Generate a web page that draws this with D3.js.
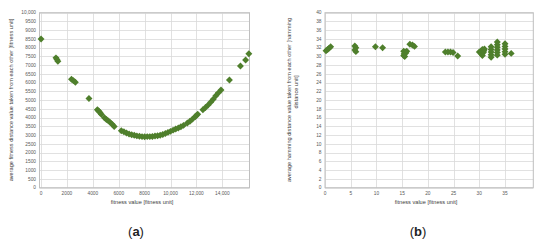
<!DOCTYPE html>
<meta charset="utf-8">
<script src="https://d3js.org/d3.v7.min.js"></script>
<style>
  body { margin: 0; background: #fff; }
  text { font-family: "Liberation Sans", Arial, sans-serif; }
</style>
<div id="chart"></div>
<script>
// chart (a): fitness value vs. average fitness distance
var aFitness = [0,
  1150, 1230, 1300,
  2350, 2500, 2650,
  3700,
  4350, 4450, 4550, 4650,
  4900, 5050, 5200, 5350, 5500, 5650,
  6200, 6400, 6600, 6800, 7000, 7200, 7400, 7600, 7800, 8000, 8200, 8400, 8600, 8800,
  9000, 9200, 9400, 9600, 9800, 10000, 10200, 10400, 10600, 10800, 11000, 11300, 11500,
  11700, 11900, 12000, 12100,
  12500, 12700, 12900, 13100, 13300, 13500, 13700, 13900,
  14550, 15400, 15800, 16050];
var aDistance = [8500,
  7420, 7330, 7230,
  6200, 6120, 6030,
  5100,
  4450, 4380, 4300, 4200,
  4000, 3900, 3820, 3720, 3620, 3500,
  3250, 3200, 3130, 3070, 3030, 3000, 2960, 2940, 2920, 2910, 2920, 2920, 2930, 2950,
  2970, 3000, 3040, 3100, 3160, 3220, 3290, 3350, 3410, 3480, 3560, 3700, 3800,
  3920, 4050, 4130, 4200,
  4450, 4580, 4720, 4880, 5050, 5250, 5420, 5580,
  6150, 6950, 7300, 7650];
var aXTicks = [0, 2000, 4000, 6000, 8000, 10000, 12000, 14000];
var aXLabels = ["0", "2000", "4000", "6000", "8000", "10,000", "12,000", "14,000"];
var aYTicks = d3.range(0, 10001, 500);
var aYLabels = aYTicks.map(function(v) { return v === 10000 ? "10,000" : String(v); });

// chart (b): fitness value vs. average hamming distance
var bFitness = [0.2, 0.5, 0.8, 1.1,
  5.8, 6.0, 5.8, 6.0,
  9.8, 11.2,
  15.3, 15.6, 15.9, 15.4, 15.7, 15.3, 15.5,
  16.5, 17.0, 17.4,
  23.4, 23.9, 24.4, 24.9, 25.8,
  30.0, 30.3, 30.6, 30.9, 30.4, 30.8, 30.6, 31.0,
  32.3, 32.3, 32.3, 32.3, 32.3,
  33.5, 33.5, 33.5, 33.5, 33.5, 33.5,
  35.0, 35.0, 35.0, 35.0, 35.0,
  36.2];
var bHamming = [31.3, 31.6, 31.9, 32.2,
  32.4, 32.0, 31.5, 31.1,
  32.2, 32.0,
  31.2, 31.0, 31.2, 30.6, 30.8, 30.2, 30.0,
  32.8, 32.6, 32.3,
  31.0, 31.0, 31.0, 30.9, 30.1,
  31.0, 31.2, 31.6, 31.3, 30.6, 30.9, 30.2, 31.7,
  32.2, 31.6, 31.0, 30.4, 29.8,
  33.3, 32.7, 32.1, 31.5, 30.9, 30.3,
  32.9, 32.3, 31.7, 31.1, 30.5,
  30.7];
var bXTicks = [0, 5, 10, 15, 20, 25, 30, 35];
var bXLabels = bXTicks.map(String);
var bYTicks = d3.range(0, 41, 2);
var bYLabels = bYTicks.map(String);

var W = 550, H = 247;
var green = "#4f7f2c";

var svg = d3.select("#chart").append("svg")
    .attr("width", W)
    .attr("height", H);

function drawPanel(opt) {
  var x = d3.scaleLinear().domain(opt.xDomain).range(opt.xRange);
  var y = d3.scaleLinear().domain(opt.yDomain).range([187.7, 12.7]);
  var g = svg.append("g");
  var x0 = opt.xRange[0], x1 = opt.xRange[1];

  // horizontal grid
  g.append("g").selectAll("line")
    .data(opt.yTicks)
    .enter().append("line")
      .attr("x1", x0).attr("x2", x1)
      .attr("y1", function(d) { return Math.round(y(d)) + 0.5; })
      .attr("y2", function(d) { return Math.round(y(d)) + 0.5; })
      .attr("stroke", "#d9d9d9").attr("stroke-width", 0.8);

  // vertical grid
  g.append("g").selectAll("line")
    .data(opt.xTicks)
    .enter().append("line")
      .attr("y1", 12.7).attr("y2", 187.7)
      .attr("x1", function(d) { return Math.round(x(d)) + 0.5; })
      .attr("x2", function(d) { return Math.round(x(d)) + 0.5; })
      .attr("stroke", "#d9d9d9").attr("stroke-width", 0.8);

  // plot frame
  g.append("rect")
    .attr("x", x0).attr("y", 12.7)
    .attr("width", x1 - x0).attr("height", 175)
    .attr("fill", "none")
    .attr("stroke", "#bfbfbf").attr("stroke-width", 1);

  // y tick labels
  g.append("g").selectAll("text")
    .data(opt.yTicks)
    .enter().append("text")
      .attr("x", x0 - 3.5)
      .attr("y", function(d) { return y(d); })
      .attr("dy", "0.35em")
      .attr("text-anchor", "end")
      .attr("font-size", 4.8)
      .attr("fill", "#595959")
      .text(function(d, i) { return opt.yLabels[i]; });

  // x tick labels
  g.append("g").selectAll("text")
    .data(opt.xTicks)
    .enter().append("text")
      .attr("x", function(d) { return x(d); })
      .attr("y", 194.5)
      .attr("text-anchor", "middle")
      .attr("font-size", 4.8)
      .attr("fill", "#595959")
      .text(function(d, i) { return opt.xLabels[i]; });

  // points, Excel-like diamonds
  var sym = d3.symbol().type(d3.symbolSquare).size(24);
  g.append("g").selectAll("path")
    .data(opt.xs)
    .enter().append("path")
      .attr("d", sym)
      .attr("fill", green)
      .attr("transform", function(d, i) {
        return "translate(" + x(d) + "," + y(opt.ys[i]) + ") rotate(45)";
      });

  // x axis title
  g.append("text")
    .attr("x", opt.xTitleX).attr("y", 203.5)
    .attr("text-anchor", "middle")
    .attr("font-size", 5.6)
    .attr("fill", "#404040")
    .text("fitness value  [fitness unit]");

  // y axis title (one or two lines)
  opt.yTitle.forEach(function(line, i) {
    g.append("text")
      .attr("transform", "translate(" + opt.yTitleX[i] + "," + opt.yTitleY[i] + ") rotate(-90)")
      .attr("text-anchor", "middle")
      .attr("font-size", 5.6)
      .attr("fill", "#404040")
      .text(line);
  });

  // panel caption
  var cap = svg.append("text")
    .attr("x", opt.capX).attr("y", 236)
    .attr("text-anchor", "middle")
    .attr("font-family", "Liberation Serif, serif")
    .attr("font-size", 13)
    .attr("fill", "#222");
  cap.append("tspan").text("(");
  cap.append("tspan").attr("font-weight", "bold").text(opt.cap);
  cap.append("tspan").text(")");
}

drawPanel({
  xs: aFitness, ys: aDistance,
  xDomain: [-120, 16100], xRange: [39.5, 249.5],
  yDomain: [0, 10000],
  xTicks: aXTicks, xLabels: aXLabels,
  yTicks: aYTicks, yLabels: aYLabels,
  xTitleX: 142,
  yTitle: ["average fitness distance value taken from each other  [fitness unit]"],
  yTitleX: [13], yTitleY: [100],
  capX: 136, cap: "a"
});

drawPanel({
  xs: bFitness, ys: bHamming,
  xDomain: [0, 40.5], xRange: [325, 533.3],
  yDomain: [0, 40],
  xTicks: bXTicks, xLabels: bXLabels,
  yTicks: bYTicks, yLabels: bYLabels,
  xTitleX: 426,
  yTitle: ["average hamming distance value taken from each other  [hamming", "distance unit]"],
  yTitleX: [291, 298], yTitleY: [100, 92],
  capX: 418, cap: "b"
});
</script>
